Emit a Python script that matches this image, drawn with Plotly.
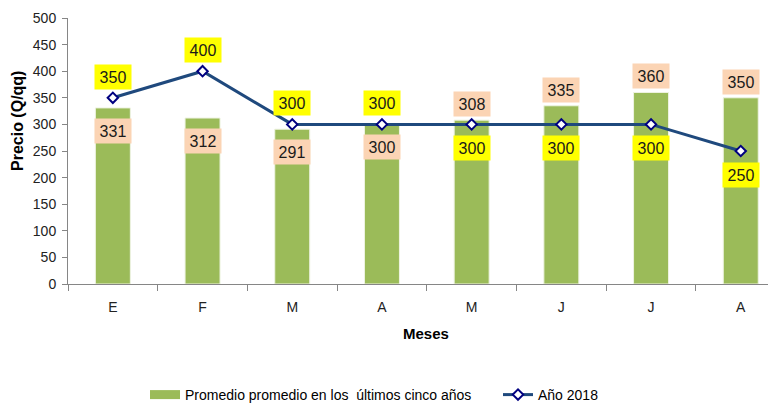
import plotly.graph_objects as go

meses = ["E", "F", "M", "A", "M ", "J", "J ", "A "]
tick_text = ["E", "F", "M", "A", "M", "J", "J", "A"]
promedio = [331, 312, 291, 300, 308, 335, 360, 350]
anio_2018 = [350, 400, 300, 300, 300, 300, 300, 250]

FONT = "Liberation Sans, Arial, sans-serif"
GREEN = "#9BBB59"
PEACH = "#FBD4B4"
YELLOW = "#FFFF00"
LINE = "#1F497D"
AXIS = "#868686"

# the page body has an 8px margin, so the figure is 8px smaller than the window
W, H = 768, 398

fig = go.Figure()
fig.add_trace(go.Bar(
    x=meses, y=promedio, width=0.39,
    marker=dict(color=GREEN, line=dict(color="#EEF3E2", width=1)),
    showlegend=False, hoverinfo="y",
))
# legend entry for the bars (wide swatch like the original)
fig.add_trace(go.Scatter(
    x=[None], y=[None], mode="lines",
    line=dict(color=GREEN, width=9),
    name="Promedio promedio en los  últimos cinco años",
    legend="legend",
))
fig.add_trace(go.Scatter(
    x=meses, y=anio_2018, mode="lines+markers", name="Año 2018",
    line=dict(color=LINE, width=3),
    marker=dict(symbol="diamond", size=8, color="white",
                line=dict(color="#000080", width=2)),
    legend="legend2",
))

annotations = []
for m, b, l in zip(meses, promedio, anio_2018):
    if l >= b:
        l_shift, b_shift = 21, -23
    else:
        l_shift, b_shift = -24, 16
    annotations.append(dict(
        x=m, y=l, xref="x", yref="y", text=str(l), showarrow=False,
        yshift=l_shift, bgcolor=YELLOW, width=32, height=20, borderpad=2,
        font=dict(family=FONT, size=16, color="#1a1a1a"),
    ))
    annotations.append(dict(
        x=m, y=b, xref="x", yref="y", text=str(b), showarrow=False,
        yshift=b_shift, bgcolor=PEACH, width=32, height=20, borderpad=2,
        font=dict(family=FONT, size=16, color="#1a1a1a"),
    ))

annotations.append(dict(
    x=(10 - 60) / 708, y=(284 - 121) / 266, xref="paper", yref="paper",
    xanchor="center", yanchor="middle",
    text="<b>Precio (Q/qq)</b>", textangle=-90, showarrow=False,
    font=dict(family=FONT, size=16, color="black"),
))
annotations.append(dict(
    x=(426 - 68) / 708, y=-(333 - 284) / 266, xref="paper", yref="paper",
    xanchor="center", yanchor="middle",
    text="<b>Meses</b>", showarrow=False,
    font=dict(family=FONT, size=15, color="black"),
))

legend_common = dict(
    orientation="h", yref="container", y=(H - 387) / H, yanchor="middle",
    xref="container", bgcolor="rgba(0,0,0,0)",
    font=dict(family=FONT, size=14, color="black"),
)

fig.update_layout(
    width=W, height=H,
    margin=dict(l=60, r=0, t=10, b=H - 10 - 266, autoexpand=False),
    paper_bgcolor="white", plot_bgcolor="white",
    annotations=annotations,
    font=dict(family=FONT, size=14, color="#222222"),
    legend=dict(x=137 / W, **legend_common),
    legend2=dict(x=490 / W, **legend_common),
    xaxis=dict(
        type="category", categoryorder="array", categoryarray=meses,
        tickvals=meses, ticktext=tick_text,
        range=[-0.5, -0.5 + 708 / 89.7],
        showline=True, linecolor=AXIS, linewidth=1,
        ticks="outside", tickson="boundaries", ticklen=6, tickcolor=AXIS,
        ticklabelstandoff=10,
        tickfont=dict(family=FONT, size=14, color="#222222"),
        showgrid=False, zeroline=False,
    ),
    yaxis=dict(
        range=[0, 500], dtick=50, tick0=0,
        showline=True, linecolor=AXIS, linewidth=1,
        ticks="outside", ticklen=5, tickcolor=AXIS,
        ticklabelstandoff=3,
        tickfont=dict(family=FONT, size=14, color="#222222"),
        showgrid=False, zeroline=False,
    ),
)

fig.write_html("out.html")
